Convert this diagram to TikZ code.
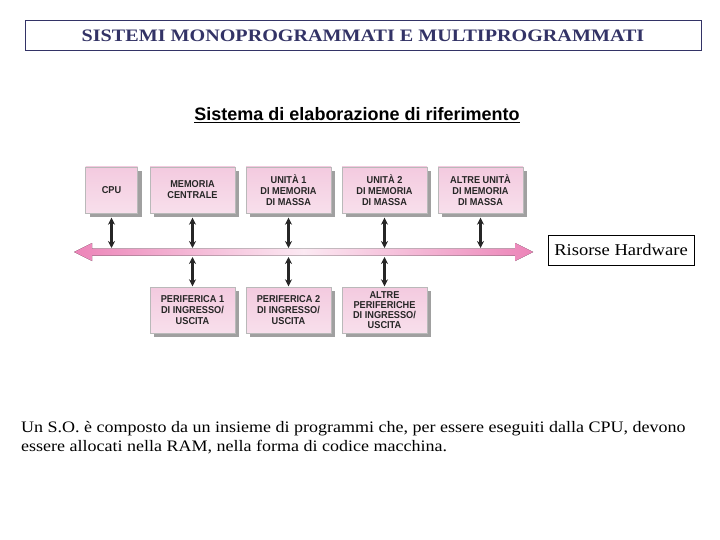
\documentclass[tikz,border=0pt]{standalone}
\usepackage{fontspec}
\setmainfont{Liberation Serif}
\newfontfamily\titlefont[FakeStretch=1.15]{Liberation Serif}
\newfontfamily\notefont[FakeStretch=1.125]{Liberation Serif}
\newfontfamily\subfont{Liberation Sans}
\newfontfamily\boxfont[FakeStretch=0.92]{Liberation Sans}
\usetikzlibrary{arrows.meta,shadows}
\definecolor{titlenavy}{HTML}{333366}
\definecolor{boxpink}{HTML}{F3CADF}
\definecolor{buspink}{HTML}{EC84B8}
\definecolor{shadowgray}{HTML}{A0A0A0}

\begin{document}
\begin{tikzpicture}[x=1pt, y=-1pt,
    unit/.style={draw=gray!55, line width=0.4pt, top color=boxpink, bottom color=boxpink!60!white,
      minimum width=85pt, minimum height=46pt, align=center, inner sep=1pt,
      font=\boxfont\bfseries\fontsize{10}{11}\selectfont, text=black!85,
      drop shadow={shadow xshift=4pt, shadow yshift=-4pt, fill=shadowgray, opacity=1}},
    link/.style={{Stealth[length=7pt,width=7pt]}-{Stealth[length=7pt,width=7pt]}, line width=2.2pt,
      draw=black!85, shorten <=4.5pt},
    frame/.style={draw=titlenavy, line width=0.8pt},
  ]
  \useasboundingbox (0,0) rectangle (720,540);

  % ---- headings
  \node[frame, minimum width=676pt, minimum height=30pt, text=titlenavy,
    font=\titlefont\bfseries\fontsize{17.5}{20}\selectfont] (title) at (363,35.5)
    {SISTEMI MONOPROGRAMMATI E MULTIPROGRAMMATI};
  \node[font=\subfont\bfseries\fontsize{18}{20}\selectfont] (sub) at (357,115)
    {\underline{Sistema di elaborazione di riferimento}};

  % ---- bus, wider at both ends
  \fill[left color=buspink, right color=buspink, middle color=buspink!18!white]
    (74,252) -- (92,243) -- (92,248.5) -- (515,248.5) -- (515,243) -- (533,252)
    -- (515,261) -- (515,255.5) -- (92,255.5) -- (92,261) -- cycle;
  \coordinate (bustop) at (0,248);
  \coordinate (busbot) at (0,257);

  % ---- units above the bus
  \node[unit, minimum width=52pt] (cpu) at (111.5,190) {CPU};
  \node[unit] (mem) at (192.5,190) {MEMORIA\\CENTRALE};
  \node[unit] (mass1) at (288.5,190) {UNITÀ 1\\DI MEMORIA\\DI MASSA};
  \node[unit] (mass2) at (384.5,190) {UNITÀ 2\\DI MEMORIA\\DI MASSA};
  \node[unit] (massn) at (480.5,190) {ALTRE UNITÀ\\DI MEMORIA\\DI MASSA};

  % ---- devices below the bus
  \node[unit] (io1) at (192.5,310) {PERIFERICA 1\\DI INGRESSO/\\USCITA};
  \node[unit] (io2) at (288.5,310) {PERIFERICA 2\\DI INGRESSO/\\USCITA};
  \node[unit, font=\boxfont\bfseries\fontsize{10}{10}\selectfont] (ion) at (384.5,310)
    {ALTRE\\PERIFERICHE\\DI INGRESSO/\\USCITA};

  % ---- links to the bus
  \foreach \u in {cpu,mem,mass1,mass2,massn}
    \draw[link] (\u.south) -- (\u.south |- bustop);
  \foreach \u in {io1,io2,ion}
    \draw[link, shorten <=0pt, shorten >=0.5pt] (\u.north |- busbot) -- (\u.north);

  % ---- label and text
  \node[draw, line width=0.6pt, minimum width=146pt, minimum height=30pt,
    font=\notefont\fontsize{16.5}{18}\selectfont] (hw) at (621,250) {Risorse Hardware};
  \node[anchor=north west, align=left, inner sep=0pt,
    font=\notefont\fontsize{16}{19}\selectfont] (note) at (21,421)
    {Un S.O. è composto da un insieme di programmi che, per essere eseguiti dalla CPU, devono\\
     essere allocati nella RAM, nella forma di codice macchina.};
\end{tikzpicture}
\end{document}
